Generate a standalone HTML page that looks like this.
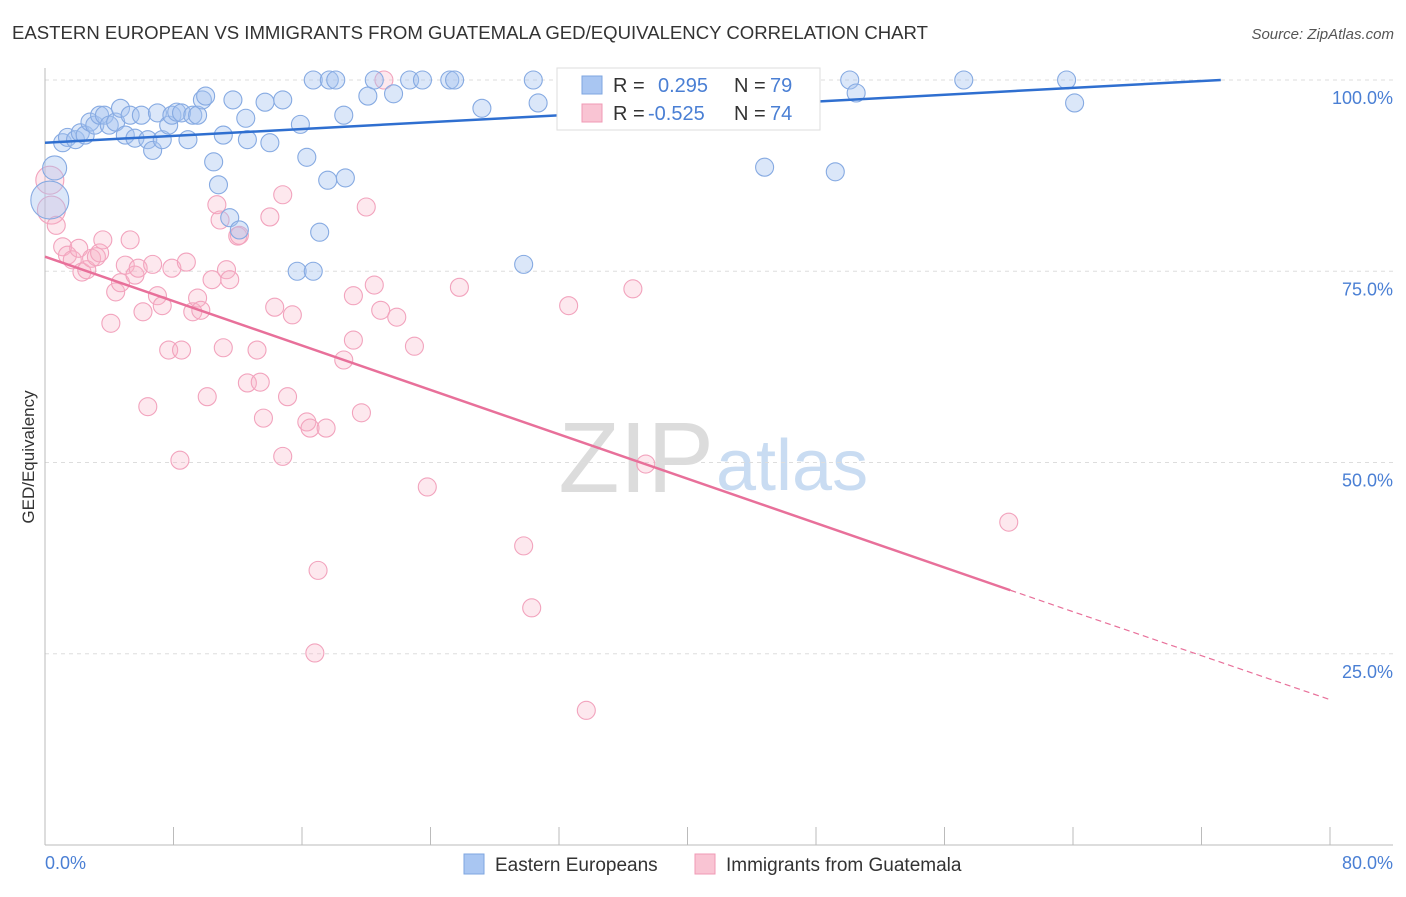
<!DOCTYPE html>
<html><head><meta charset="utf-8"><style>
body{margin:0;background:#fff;font-family:"Liberation Sans",sans-serif;}
svg text{font-family:"Liberation Sans",sans-serif;}
</style></head><body>
<svg id="chart" width="1406" height="892" viewBox="0 0 1406 892" xmlns="http://www.w3.org/2000/svg">
<text x="12" y="39" font-size="18" fill="#333" textLength="916" lengthAdjust="spacingAndGlyphs">EASTERN EUROPEAN VS IMMIGRANTS FROM GUATEMALA GED/EQUIVALENCY CORRELATION CHART</text>
<text x="1394" y="39" font-size="15" fill="#555" font-style="italic" text-anchor="end">Source: ZipAtlas.com</text>
<text x="714" y="492" font-size="100" fill="#dcdcdc" text-anchor="end" font-family="Liberation Serif">ZIP</text>
<text x="716" y="490" font-size="72" fill="#c9dcf2">atlas</text>
<g id="grid"></g><g id="axes"></g><g id="marks"></g>
<text transform="translate(34,457) rotate(-90)" font-size="17" fill="#333" text-anchor="middle">GED/Equivalency</text>
<text x="45" y="869" font-size="18" fill="#4a7fd4">0.0%</text>
<text x="1393" y="869" font-size="18" fill="#4a7fd4" text-anchor="end">80.0%</text>
<g>
<rect x="557" y="68" width="263" height="62" fill="#fff" stroke="#ddd"/>
<rect x="582" y="76" width="20" height="18" fill="#a9c6f2" stroke="#7ea6e0"/>
<text x="613" y="92" font-size="20" fill="#333">R =</text><text x="658" y="92" font-size="20" fill="#4a7fd4">0.295</text>
<text x="734" y="92" font-size="20" fill="#333">N =</text><text x="770" y="92" font-size="20" fill="#4a7fd4">79</text>
<rect x="582" y="104" width="20" height="18" fill="#f9c4d3" stroke="#f09ab5"/>
<text x="613" y="120" font-size="20" fill="#333">R =</text><text x="648" y="120" font-size="20" fill="#4a7fd4">-0.525</text>
<text x="734" y="120" font-size="20" fill="#333">N =</text><text x="770" y="120" font-size="20" fill="#4a7fd4">74</text>
</g>
<g>
<rect x="464" y="854" width="20" height="20" fill="#a9c6f2" stroke="#7ea6e0"/>
<text x="495" y="871" font-size="19" fill="#333">Eastern Europeans</text>
<rect x="695" y="854" width="20" height="20" fill="#f9c4d3" stroke="#f09ab5"/>
<text x="726" y="871" font-size="19" fill="#333">Immigrants from Guatemala</text>
</g>
</svg>
<script>
const yTicks=[25,50,75,100];
const yTickLabels=["25.0%","50.0%","75.0%","100.0%"];
const xTicks=[0,8,16,24,32,40,48,56,64,72,80];
const blueX=[0.3,0.6,1.1,1.4,1.9,2.2,2.5,2.8,3.1,3.4,3.7,4.0,4.4,4.7,5.0,5.3,5.6,6.0,6.4,6.7,7.0,7.3,7.7,7.9,8.2,8.5,8.9,9.2,9.5,9.8,10.0,10.5,10.8,11.1,11.5,11.7,12.1,12.5,12.6,13.7,14.0,14.8,15.7,15.9,16.3,16.7,16.7,17.1,17.6,17.7,18.1,18.6,18.7,20.1,20.5,21.7,22.7,23.5,25.2,25.5,27.2,29.8,30.4,30.7,34.1,39.0,44.8,47.2,49.2,50.1,50.5,57.2,63.6,64.1];
const blueY=[84.3,88.5,91.8,92.5,92.2,93.1,92.8,94.5,94.1,95.4,95.4,94.1,94.5,96.3,92.8,95.4,92.4,95.4,92.2,90.8,95.7,92.2,94.1,95.4,95.8,95.7,92.2,95.4,95.4,97.4,97.9,89.3,86.3,92.8,82.0,97.4,80.4,95.0,92.2,97.1,91.8,97.4,75.0,94.2,89.9,75.0,100,80.1,86.9,100,100,95.4,87.2,97.9,100,98.2,100,100,100,100,96.3,75.9,100,97.0,100,100,88.6,100,88.0,100,98.3,100,100,97.0];
const pinkX=[0.3,0.4,0.7,1.1,1.4,1.7,2.1,2.3,2.6,2.9,3.2,3.4,3.6,4.1,4.4,4.7,5.0,5.3,5.6,5.8,6.1,6.4,6.7,7.0,7.3,7.7,7.9,8.4,8.5,8.8,9.2,9.5,9.7,10.1,10.4,10.7,10.9,11.1,11.3,11.5,12.0,12.1,12.6,13.2,13.4,13.6,14.0,14.3,14.8,14.8,15.1,15.4,16.3,16.5,16.8,17.0,17.5,18.6,19.2,19.2,19.7,20.0,20.5,20.9,21.1,21.9,23.0,23.8,25.8,29.8,30.3,32.6,33.7,36.6,37.4,60.0];
const pinkY=[86.9,83.0,81.0,78.2,77.1,76.5,78.0,74.9,75.2,76.7,76.9,77.4,79.1,68.2,72.3,73.5,75.8,79.1,74.5,75.4,69.7,57.3,75.9,71.8,70.5,64.7,75.4,50.3,64.7,76.2,69.7,71.5,69.9,58.6,73.9,83.7,81.7,65.0,75.2,73.9,79.6,79.7,60.4,64.7,60.5,55.8,82.1,70.3,50.8,85.0,58.6,69.3,55.3,54.5,25.1,35.9,54.5,63.4,66.0,71.8,56.5,83.4,73.2,69.9,100,69.0,65.2,46.8,72.9,39.1,31.0,70.5,17.6,72.7,49.8,42.2];
const blueTrend=[0,91.8,73.2,100];
const pinkTrend=[0,76.9,60.1,33.3,80,19.0];
const NS="http://www.w3.org/2000/svg";
const X=v=>45+v*(1285/80);
const Y=v=>845-v*7.65;
function mk(tag,attrs,parent){const e=document.createElementNS(NS,tag);for(const k in attrs)e.setAttribute(k,attrs[k]);document.getElementById(parent).appendChild(e);return e;}
yTicks.forEach((t,i)=>{
 const g=mk('line',{x1:45,x2:1393,y1:Y(t),y2:Y(t),stroke:'#ddd','stroke-dasharray':'4,4'},'grid');
 
 
 const tx=mk('text',{x:1393,y:Y(t)+24,'font-size':18,fill:'#4a7fd4','text-anchor':'end'},'grid');
 tx.textContent=yTickLabels[i];
 
 
});
const ax=mk('line',{x1:45,x2:1393,y1:845,y2:845,stroke:'#bbb'},'axes');


const ay=mk('line',{x1:45,x2:45,y1:68,y2:845,stroke:'#bbb'},'axes');


xTicks.forEach(t=>{
 const l=mk('line',{x1:X(t),x2:X(t),y1:827,y2:845,stroke:'#bbb'},'axes');
 
 
});
function pts(xs,ys,fill,stroke,name){
 xs.forEach((x,i)=>{
  const r=(i<2&&x<1)?(name==='blue-point'?(i===0?19:12):14):9;
  const c=mk('circle',{cx:X(x),cy:Y(ys[i]),r:r,fill:fill,stroke:stroke,'stroke-width':1.1},'marks');
  
  
 });
}
pts(pinkX,pinkY,'rgba(248,180,200,0.3)','#f2a3bd','pink-point');
pts(blueX,blueY,'rgba(164,194,240,0.4)','#86aae2','blue-point');
const bl=mk('line',{x1:X(blueTrend[0]),y1:Y(blueTrend[1]),x2:X(blueTrend[2]),y2:Y(blueTrend[3]),stroke:'#2f6fd0','stroke-width':2.5},'marks');


const pl=mk('line',{x1:X(pinkTrend[0]),y1:Y(pinkTrend[1]),x2:X(pinkTrend[2]),y2:Y(pinkTrend[3]),stroke:'#e8709a','stroke-width':2.5},'marks');


const pd=mk('line',{x1:X(pinkTrend[2]),y1:Y(pinkTrend[3]),x2:X(pinkTrend[4]),y2:Y(pinkTrend[5]),stroke:'#e8709a','stroke-width':1.2,'stroke-dasharray':'6,4'},'marks');


</script>
</body></html>
